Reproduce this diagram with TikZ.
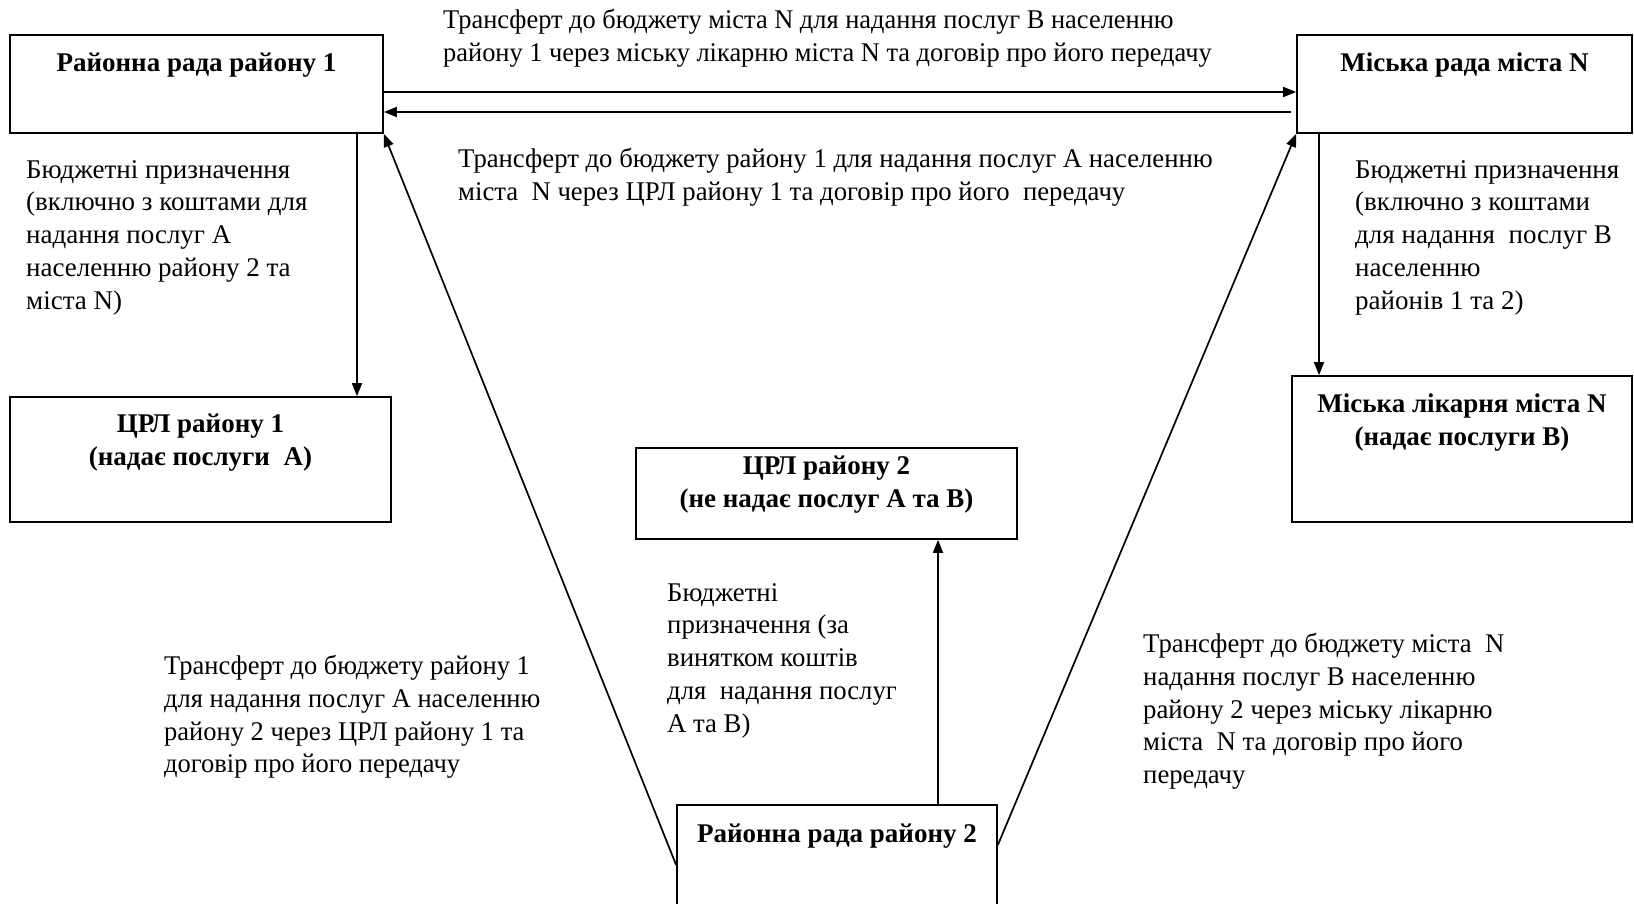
\documentclass[tikz,border=0pt]{standalone}
\usepackage{fontspec}
\setmainfont{Liberation Serif}
\usetikzlibrary{arrows.meta}
\tikzset{
  box/.style={draw, line width=1.7pt, rectangle, inner sep=0pt},
  title/.style={anchor=north, align=center, inner sep=0pt, font=\fontsize{27}{33}\selectfont\bfseries},
  txt/.style={anchor=north west, align=left, inner sep=0pt, font=\fontsize{27}{32.8}\selectfont},
  arr/.style={line width=1.7pt, -{Triangle[length=13pt,width=10pt]}}
}
\begin{document}
\begin{tikzpicture}[x=1pt,y=-1pt]
\useasboundingbox (0,0) rectangle (1634,904);
\fill[white] (0,0) rectangle (1634,904);
% boxes
\node[box, minimum width=373pt, minimum height=98pt] (r1) at (196.5,84) {};
\node[box, minimum width=335pt, minimum height=98pt] (city) at (1464.5,84) {};
\node[box, minimum width=381pt, minimum height=125pt] (crl1) at (200.5,459.5) {};
\node[box, minimum width=381pt, minimum height=91pt] (crl2) at (826.5,493.5) {};
\node[box, minimum width=340pt, minimum height=146pt] (hosp) at (1462,449) {};
\node[box, minimum width=320pt, minimum height=125pt] (r2) at (837,867.5) {};
% titles
\node[title] (r1t) at (196.5,53) {Районна рада району 1};
\node[title] (cityt) at (1464.5,53) {Міська рада міста N};
\node[title] (crl1t) at (200.5,414) {ЦРЛ району 1\\(надає послуги~ А)};
\node[title] (crl2t) at (826.5,456) {ЦРЛ району 2\\(не надає послуг А та В)};
\node[title] (hospt) at (1462,394) {Міська лікарня міста N\\(надає послуги В)};
\node[title] (r2t) at (837,824) {Районна рада району 2};
% texts
\node[txt, xscale=0.978, transform shape] (tA) at (443,9) {Трансферт до бюджету міста N для надання послуг В населенню\\району 1 через міську лікарню міста N та договір про його передачу};
\node[txt, xscale=0.989, transform shape] (tB) at (458,148) {Трансферт до бюджету району 1 для надання послуг А населенню\\міста~ N через ЦРЛ району 1 та договір про його~ передачу};
\node[txt] (tL) at (26,160) {Бюджетні призначення\\(включно з коштами для\\надання послуг А\\населенню району 2 та\\міста N)};
\node[txt] (tR) at (1355,160) {Бюджетні призначення\\(включно з коштами\\для надання~ послуг В\\населенню\\районів 1 та 2)};
\node[txt, xscale=0.99, transform shape] (tC) at (667,583) {Бюджетні\\призначення (за\\винятком коштів\\для~ надання послуг\\А та В)};
\node[txt, xscale=0.981, transform shape] (tLB) at (164,655) {Трансферт до бюджету району 1\\для надання послуг А населенню\\району 2 через ЦРЛ району 1 та\\договір про його передачу};
\node[txt, xscale=0.99, transform shape] (tRB) at (1143,633) {Трансферт до бюджету міста~ N\\надання послуг В населенню\\району 2 через міську лікарню\\міста~ N та договір про його\\передачу};
% connectors
\draw[arr] ([yshift=-8pt]r1.east) -- ([yshift=-8pt]city.west);
\draw[arr] ([xshift=-5pt,yshift=-28pt]city.west) -- ([yshift=-28pt]r1.east);
\draw[arr] ([xshift=160.5pt]r1.south) coordinate (c1) -- (c1 |- crl1.north);
\draw[arr] ([xshift=-145.5pt]city.south) coordinate (c2) -- (c2 |- hosp.north);
\draw[arr] ([xshift=101pt]r2.north) coordinate (c3) -- (c3 |- crl2.south);
\draw[arr] ([yshift=2.5pt]r2.west) -- (r1.south east);
\draw[arr] ([yshift=22.5pt]r2.east) -- (city.south west);
\end{tikzpicture}
\end{document}
